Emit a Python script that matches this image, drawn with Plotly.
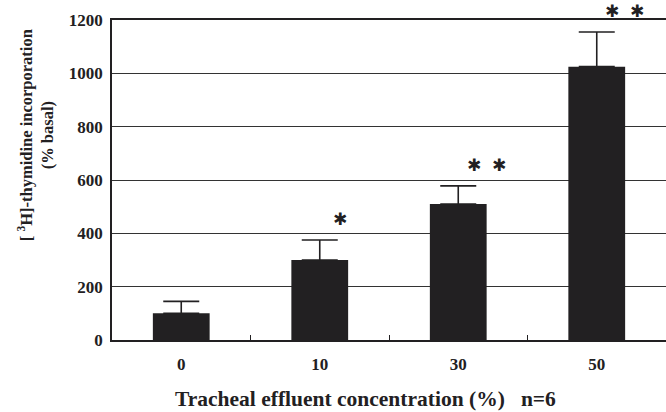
import plotly.graph_objects as go

# Tracheal effluent concentration (%) and [3H]-thymidine incorporation (% basal)
concentrations = ["0", "10", "30", "50"]
incorporation = [100, 300, 510, 1025]
sem = [45, 75, 68, 130]
significance = ["", "*", "* *", "* *"]

y_ticks = [0, 200, 400, 600, 800, 1000, 1200]

serif = "Liberation Serif, Times New Roman, serif"
ink = "#222022"

fig = go.Figure()
fig.add_trace(go.Bar(
    x=concentrations,
    y=incorporation,
    width=0.41,
    marker=dict(color=ink, line=dict(width=0)),
    error_y=dict(type="data", array=sem, arrayminus=[0] * len(sem), symmetric=False,
                 color=ink, thickness=1.6, width=18),
    showlegend=False,
))

# significance markers above each error cap, offset to the right
# (annotation x on a category axis is the category's index)
for idx, (val, err, mark) in enumerate(zip(incorporation, sem, significance)):
    if not mark:
        continue
    fig.add_annotation(
        x=idx, y=val + err, xref="x", yref="y",
        text=mark.replace("*", "✱").replace(" ", "  "),
        showarrow=False, yanchor="middle",
        xshift=20 if mark == "*" else 28, yshift=21,
        font=dict(family="DejaVu Sans", size=17, color=ink),
    )

fig.add_annotation(
    xref="paper", yref="paper", x=0, y=0.64, xanchor="center", yanchor="middle",
    xshift=-76, textangle=-90, showarrow=False,
    text="<b>[ <sup>3</sup>H]-thymidine incorporation<br>(% basal)</b>",
    font=dict(family=serif, size=16.5, color=ink),
)

fig.add_annotation(
    xref="paper", yref="paper", x=0.457, y=-0.184, xanchor="center", yanchor="middle",
    showarrow=False,
    text="<b>Tracheal effluent concentration (%)   n=6</b>",
    font=dict(family=serif, size=21.5, color=ink),
)

fig.update_layout(
    width=666, height=412,
    margin=dict(l=112, r=0, t=20, b=72),
    paper_bgcolor="white", plot_bgcolor="white",
    font=dict(family=serif, color=ink),
    xaxis=dict(
        type="category", range=[-0.5, 3.5],
        tickson="boundaries", ticks="inside", ticklen=5, tickcolor=ink,
        showline=True, linecolor=ink, linewidth=1.6, mirror=True,
        tickvals=concentrations,
        ticktext=[f"<b>{c}</b>" for c in concentrations],
        tickfont=dict(family=serif, size=17, color=ink),
        ticklabelstandoff=8,
        showgrid=False,
    ),
    yaxis=dict(
        range=[0, 1200], tickvals=y_ticks,
        ticktext=[f"<b>{v}</b>" for v in y_ticks],
        tickfont=dict(family=serif, size=17, color=ink),
        showline=True, linecolor=ink, linewidth=1.6,
        showgrid=True, gridcolor="#333333", gridwidth=1.4,
        zeroline=False, ticks="", ticklabelstandoff=4,
    ),
)

fig.write_html("out.html")
